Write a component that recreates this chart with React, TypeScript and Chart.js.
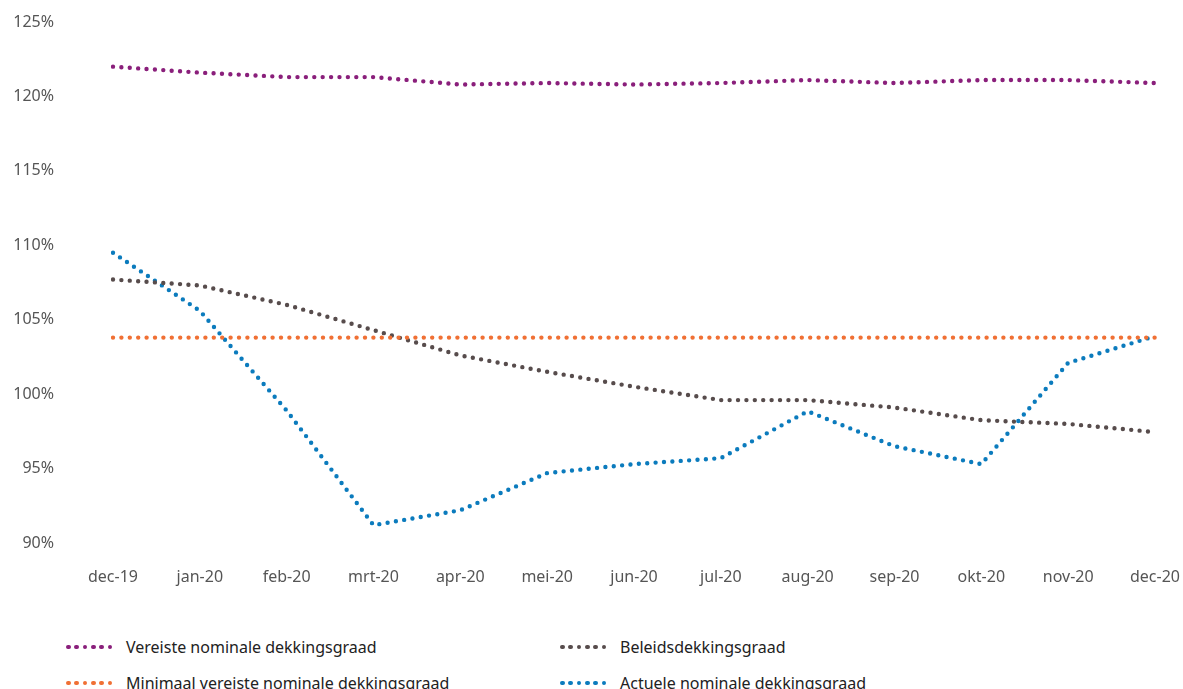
import React, { useEffect, useRef } from "react";
import { Chart, registerables } from "chart.js";

Chart.register(...registerables);

const categories = ["dec-19", "jan-20", "feb-20", "mrt-20", "apr-20", "mei-20", "jun-20", "jul-20", "aug-20", "sep-20", "okt-20", "nov-20", "dec-20"];
const vereiste = [122.0, 121.6, 121.3, 121.3, 120.8, 120.9, 120.8, 120.9, 121.1, 120.9, 121.1, 121.1, 120.9];
const minimaal = [103.8, 103.8, 103.8, 103.8, 103.8, 103.8, 103.8, 103.8, 103.8, 103.8, 103.8, 103.8, 103.8];
const beleids = [107.7, 107.3, 106.0, 104.3, 102.6, 101.5, 100.5, 99.6, 99.6, 99.1, 98.25, 98.0, 97.45];
const actuele = [109.5, 105.6, 98.9, 91.2, 92.2, 94.7, 95.3, 95.7, 98.85, 96.5, 95.3, 102.1, 103.9];
const yTicks = [90, 95, 100, 105, 110, 115, 120, 125];

const seriesNames = [
  "Vereiste nominale dekkingsgraad",
  "Minimaal vereiste nominale dekkingsgraad",
  "Beleidsdekkingsgraad",
  "Actuele nominale dekkingsgraad",
];
const colors = ["#8a1f7b", "#f07034", "#574c4c", "#0b7bbd"];

const FONT = "'Noto Sans', sans-serif";

function Dots({ color }: { color: string }) {
  return (
    <div style={{ display: "flex", width: 50 }}>
      {[0, 1, 2, 3, 4, 5].map((i) => (
        <span
          key={i}
          style={{
            display: "inline-block",
            width: 4.6,
            height: 4.6,
            borderRadius: "50%",
            background: color,
            marginRight: 3.8,
          }}
        />
      ))}
    </div>
  );
}

export default function App() {
  const ref = useRef<HTMLCanvasElement | null>(null);

  useEffect(() => {
    if (!ref.current) return;
    const all = [vereiste, minimaal, beleids, actuele];
    const chart = new Chart(ref.current, {
      type: "line",
      data: {
        labels: categories,
        datasets: all.map((d, i) => ({
          label: seriesNames[i],
          data: d,
          borderColor: colors[i],
          backgroundColor: colors[i],
          borderWidth: 4.4,
          borderDash: [0, 8.4],
          borderCapStyle: "round" as const,
          pointRadius: 0,
          tension: 0,
          fill: false,
        })),
      },
      options: {
        animation: false,
        responsive: false,
        maintainAspectRatio: false,
        layout: { padding: { top: 22, right: 28, bottom: 0, left: 0 } },
        plugins: { legend: { display: false }, tooltip: { enabled: false } },
        scales: {
          x: {
            offset: false,
            grid: { display: false, drawTicks: false },
            border: { display: false },
            ticks: {
              color: "#555555",
              font: { family: FONT, size: 16 },
              padding: 25,
              maxRotation: 0,
              autoSkip: false,
            },
            afterFit: (s: any) => {
              s.height = 57;
              s.paddingLeft = 0;
              s.paddingRight = 0;
            },
          },
          y: {
            min: 90,
            max: 125,
            grid: { display: false, drawTicks: false },
            border: { display: false },
            afterBuildTicks: (s: any) => {
              s.ticks = yTicks.map((v) => ({ value: v }));
            },
            ticks: {
              color: "#555555",
              font: { family: FONT, size: 16 },
              padding: 59,
              callback: (v: any) => v + "%",
            },
            afterFit: (s: any) => {
              s.width = 113;
              s.paddingTop = 0;
              s.paddingBottom = 0;
            },
          },
        },
      },
    });
    return () => chart.destroy();
  }, []);

  const legendItem = (i: number, left: number, top: number) => (
    <div
      key={i}
      style={{
        position: "absolute",
        left,
        top,
        display: "flex",
        alignItems: "center",
        height: 20,
        fontFamily: FONT,
        fontSize: 16,
        color: "#222222",
        whiteSpace: "nowrap",
      }}
    >
      <Dots color={colors[i]} />
      <span style={{ marginLeft: 10 }}>{seriesNames[i]}</span>
    </div>
  );

  return (
    <div style={{ position: "absolute", left: 0, top: 0, width: 1183, height: 689, overflow: "hidden", background: "#fff" }}>
      <canvas ref={ref} width={1183} height={600} style={{ position: "absolute", left: 0, top: 0 }} />
      {legendItem(0, 66, 637)}
      {legendItem(2, 560, 637)}
      {legendItem(1, 66, 673)}
      {legendItem(3, 560, 673)}
    </div>
  );
}
